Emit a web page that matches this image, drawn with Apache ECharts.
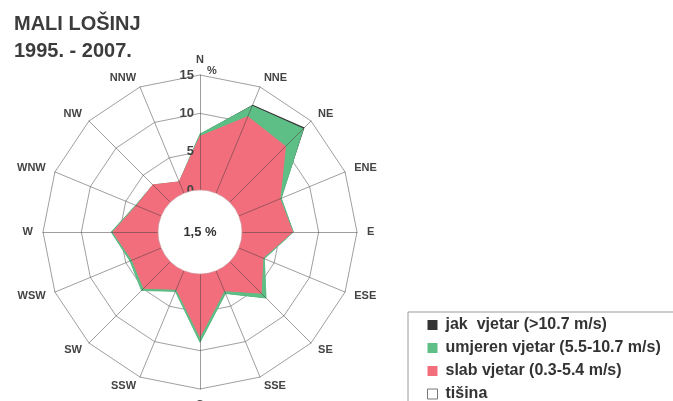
<!DOCTYPE html>
<html>
<head>
<meta charset="utf-8">
<script src="https://cdn.jsdelivr.net/npm/echarts@6/dist/echarts.min.js"></script>
<style>
html,body{margin:0;padding:0;background:#fff;}
#chart{width:673px;height:401px;}
</style>
</head>
<body>
<div id="chart"></div>
<script>
// ---- data (clockwise from N) ----
const directions = ['N','NNE','NE','ENE','E','ESE','SE','SSE','S','SSW','SW','WSW','W','WNW','NW','NNW'];
const slab     = [7.0, 10.8, 10.3, 5.8, 6.6, 3.4, 5.8, 2.8, 8.2, 2.6, 4.9, 4.1, 5.9, 3.5, 3.2, 1.6];
const umjeren  = [0.3, 1.5, 3.25, 0.2, 0.1, 0.2, 0.9, 0.4, 0.7, 0.3, 0.4, 0.3, 0.2, 0.1, 0.0, 0.0];
const jak      = [0.0, 0.2, 0.25, 0.0, 0.0, 0.0, 0.0, 0.0, 0.0, 0.0, 0.0, 0.0, 0.0, 0.0, 0.0, 0.0];
const tisina   = 1.5;
const radialMax = 15;
const radialSplits = 3;
const titleLines = ['MALI LOŠINJ', '1995. - 2007.'];
const names = {
  jak: 'jak  vjetar (>10.7 m/s)',
  umjeren: 'umjeren vjetar (5.5-10.7 m/s)',
  slab: 'slab vjetar (0.3-5.4 m/s)',
  tisina: 'tišina'
};
const colors = { jak: '#333333', umjeren: '#5dbf86', slab: '#f26e7c' };

// radar goes counter-clockwise; reorder so directions run clockwise
const order = [0].concat(directions.slice(1).map((d, i) => directions.length - 1 - i));
const ro = arr => order.map(i => arr[i]);
const cumUmj = slab.map((v, i) => +(v + umjeren[i]).toFixed(2));
const cumJak = slab.map((v, i) => +(v + umjeren[i] + jak[i]).toFixed(2));

const center = [200, 232];
const radius = [42, 157];
const font = 'Liberation Sans, Arial, sans-serif';

const indicatorBase = order.map(i => ({ name: directions[i], min: 0, max: radialMax }));
const indicatorTop = order.map((i, k) => {
  const o = { name: directions[i], min: 0, max: radialMax };
  if (k === 0) o.axisLabel = { show: true };
  return o;
});

const chart = echarts.init(document.getElementById('chart'), null, { renderer: 'canvas' });
chart.setOption({
  animation: false,
  backgroundColor: '#ffffff',
  title: {
    text: titleLines.join('\n'),
    left: 9, top: 6,
    textStyle: { fontFamily: font, fontSize: 20, fontWeight: 'bold', color: '#3c3c3c', lineHeight: 27 }
  },
  graphic: [{
    type: 'text', left: 207, top: 65, z: 10,
    style: { text: '%', font: 'bold 11px ' + font, fill: '#444' }
  }],
  legend: {
    orient: 'vertical',
    left: 408, top: 312,
    width: 300, height: 120,
    padding: [5, 20, 6, 19],
    itemGap: 7,
    itemWidth: 10, itemHeight: 10,
    borderColor: '#9a9a9a', borderWidth: 1,
    backgroundColor: '#fff',
    selectedMode: false,
    textStyle: { fontFamily: font, fontSize: 16, fontWeight: 'bold', color: '#333', padding: [0, 0, 0, 3] },
    data: [
      { name: names.jak, icon: 'rect', itemStyle: { color: colors.jak } },
      { name: names.umjeren, icon: 'rect', itemStyle: { color: colors.umjeren } },
      { name: names.slab, icon: 'rect', itemStyle: { color: colors.slab } },
      { name: names.tisina, icon: 'rect', itemStyle: { color: '#fff', borderColor: '#777', borderWidth: 1 } }
    ]
  },
  radar: [{
    z: 1,
    center: center, radius: radius, startAngle: 90,
    splitNumber: radialSplits, shape: 'polygon',
    indicator: indicatorBase,
    axisName: { color: '#444', fontFamily: font, fontSize: 11, fontWeight: 'bold' },
    nameGap: 10,
    splitLine: { lineStyle: { color: '#a0a0a0', width: 1 } },
    splitArea: { show: false },
    axisLine: { show: false },
    axisTick: { show: false },
    axisLabel: { show: false }
  }, {
    z: 3,
    center: center, radius: radius, startAngle: 90,
    splitNumber: radialSplits, shape: 'polygon',
    indicator: indicatorTop,
    axisName: { show: false },
    splitLine: { show: false },
    splitArea: { show: false },
    axisLine: { show: true, lineStyle: { color: 'rgba(70,60,60,0.5)', width: 1 } },
    axisTick: { show: false },
    axisLabel: { show: false, color: '#444', fontFamily: font, fontSize: 13, fontWeight: 'bold', margin: 6 }
  }],
  series: [{
    type: 'radar', name: names.jak, radarIndex: 0, z: 2, symbol: 'none', silent: true,
    data: [{ name: names.jak, value: ro(cumJak),
      itemStyle: { color: colors.jak },
      lineStyle: { width: 0, color: colors.jak },
      areaStyle: { color: colors.jak, opacity: 1 } }]
  }, {
    type: 'radar', name: names.umjeren, radarIndex: 0, z: 2, symbol: 'none', silent: true,
    data: [{ name: names.umjeren, value: ro(cumUmj),
      itemStyle: { color: colors.umjeren },
      lineStyle: { width: 1, color: colors.umjeren },
      areaStyle: { color: colors.umjeren, opacity: 1 } }]
  }, {
    type: 'radar', name: names.slab, radarIndex: 0, z: 2, symbol: 'none', silent: true,
    data: [{ name: names.slab, value: ro(slab),
      itemStyle: { color: colors.slab },
      lineStyle: { width: 1, color: colors.slab },
      areaStyle: { color: colors.slab, opacity: 1 } }]
  }, {
    type: 'pie', name: names.tisina, z: 4, silent: true,
    center: center, radius: [0, radius[0]],
    legendHoverLink: false,
    itemStyle: { color: '#fff', borderColor: '#c9a0a4', borderWidth: 0.6 },
    label: {
      show: true, position: 'center',
      formatter: p => String(p.value).replace('.', ',') + ' %',
      fontFamily: font, fontSize: 13, fontWeight: 'bold', color: '#333'
    },
    labelLine: { show: false },
    emphasis: { disabled: true },
    data: [{ name: names.tisina, value: tisina }]
  }]
});
</script>
</body>
</html>
